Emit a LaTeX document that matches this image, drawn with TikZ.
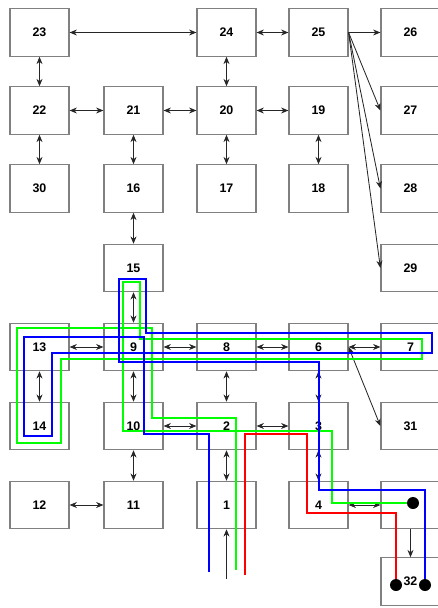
\documentclass[tikz,border=0pt]{standalone}
\usepackage{fontspec}
\setmainfont{Liberation Sans}
\usetikzlibrary{arrows.meta}

\tikzset{
  blk/.style={draw=black!50, line width=0.35mm, minimum width=17.7mm,
    minimum height=14.2mm, inner sep=0pt,
    font=\fontsize{10.6}{12}\selectfont\bfseries},
  link/.style={line width=0.25mm, draw=black!85},
  route/.style={line width=0.5mm},
  stop/.style={fill=black}
}

\begin{document}
\begin{tikzpicture}[x=0.3mm, y=-0.3mm, >={Stealth[length=2.2mm,width=1.8mm]}]

  \useasboundingbox (0,0) rectangle (438,608);

  % Row 1
  \node[blk] (n23) at (39.5,32.5) {23};
  \node[blk] (n24) at (226.5,32.5) {24};
  \node[blk] (n25) at (318.5,32.5) {25};
  \node[blk] (n26) at (410.5,32.5) {26};

  % Row 2
  \node[blk] (n22) at (39.5,110.5) {22};
  \node[blk] (n21) at (133.5,110.5) {21};
  \node[blk] (n20) at (226.5,110.5) {20};
  \node[blk] (n19) at (318.5,110.5) {19};
  \node[blk] (n27) at (410.5,110.5) {27};

  % Row 3
  \node[blk] (n30) at (39.5,188.5) {30};
  \node[blk] (n16) at (133.5,188.5) {16};
  \node[blk] (n17) at (226.5,188.5) {17};
  \node[blk] (n18) at (318.5,188.5) {18};
  \node[blk] (n28) at (410.5,188.5) {28};

  % Row 4
  \node[blk] (n15) at (133.5,268) {15};
  \node[blk] (n29) at (410.5,268) {29};

  % Row 5
  \node[blk] (n13) at (39.5,347) {13};
  \node[blk] (n9) at (133.5,347) {9};
  \node[blk] (n8) at (226.5,347) {8};
  \node[blk] (n6) at (318.5,347) {6};
  \node[blk] (n7) at (410.5,347) {7};

  % Row 6
  \node[blk] (n14) at (39.5,426) {14};
  \node[blk] (n10) at (133.5,426) {10};
  \node[blk] (n2) at (226.5,426) {2};
  \node[blk] (n3) at (318.5,426) {3};
  \node[blk] (n31) at (410.5,426) {31};

  % Row 7
  \node[blk] (n12) at (39.5,505) {12};
  \node[blk] (n11) at (133.5,505) {11};
  \node[blk] (n1) at (226.5,505) {1};
  \node[blk] (n4) at (318.5,505) {4};
  \node[blk] (nx) at (410.5,505) {};

  % Row 8
  \node[blk] (n32) at (410.5,581.5) {32};

  \coordinate (feed) at (226.5,579);

  % Links
  \draw[link, <->] (n23) -- (n24);
  \draw[link, <->] (n24) -- (n25);
  \draw[link, ->] (n25) -- (n26);
  \draw[link, ->] (n25.east) -- (n27.west);
  \draw[link, ->] (n25.east) -- (n28.west);
  \draw[link, ->] (n25.east) -- (n29.west);
  \draw[link, <->] (n23) -- (n22);
  \draw[link, <->] (n24) -- (n20);
  \draw[link, <->] (n22) -- (n21);
  \draw[link, <->] (n21) -- (n20);
  \draw[link, <->] (n20) -- (n19);
  \draw[link, <->] (n22) -- (n30);
  \draw[link, <->] (n21) -- (n16);
  \draw[link, <->] (n20) -- (n17);
  \draw[link, <->] (n19) -- (n18);
  \draw[link, <->] (n16) -- (n15);
  \draw[link, <->] (n15) -- (n9);
  \draw[link, <->] (n13) -- (n9);
  \draw[link, <->] (n9) -- (n8);
  \draw[link, <->] (n8) -- (n6);
  \draw[link, <->] (n6) -- (n7);
  \draw[link, <->] (n13) -- (n14);
  \draw[link, <->] (n9) -- (n10);
  \draw[link, <->] (n8) -- (n2);
  \draw[link, <->] (n6) -- (n3);
  \draw[link, <->] (n6.east) -- (n31.west);
  \draw[link, <->] (n10) -- (n2);
  \draw[link, <->] (n2) -- (n3);
  \draw[link, <->] (n10) -- (n11);
  \draw[link, <->] (n12) -- (n11);
  \draw[link, <->] (n2) -- (n1);
  \draw[link, <->] (n3) -- (n4);
  \draw[link, <->] (n4) -- (nx);
  \draw[link, ->] (nx) -- (n32);
  \draw[link, ->] (feed) -- (n1);

  % Green route
  \draw[route, green] (236,570) |- (152,418) |- (17,328) |- (61,443)
    |- (422,359) |- (140,339) |- (123,282) |- (332,431) |- (413,503);
  \fill[stop] (413,503) circle (6);

  % Blue route
  \draw[route, blue] (209,572) |- (144,434) |- (24,337) |- (52,436)
    |- (432,353) |- (146,333) |- (119,279) |- (319,362) |- (425,490)
    -- (425,585);
  \fill[stop] (425,585) circle (6);

  % Red route
  \draw[route, red] (245,575) |- (307,434) |- (396,513) -- (396,585);
  \fill[stop] (396,585) circle (6);

\end{tikzpicture}
\end{document}
